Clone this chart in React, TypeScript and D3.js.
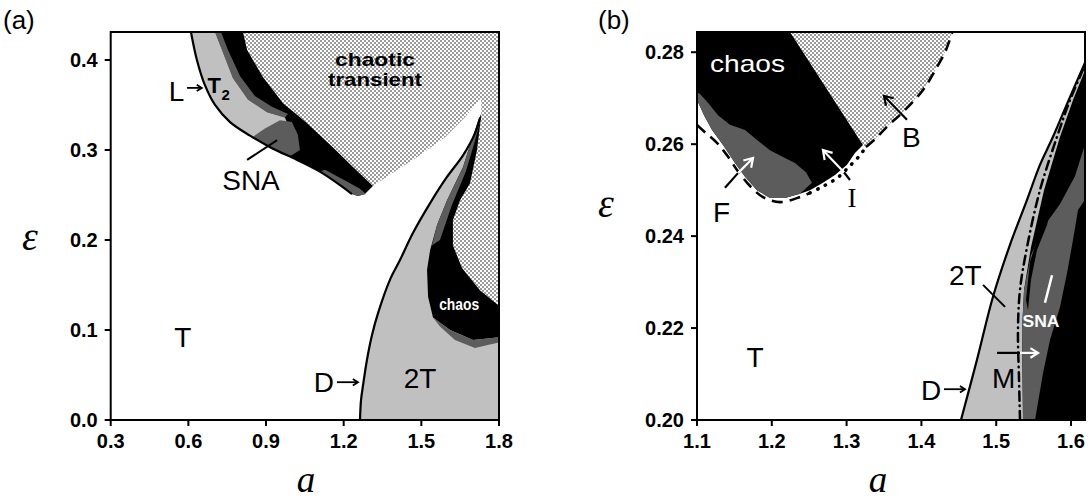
import React from 'react';
import * as d3 from 'd3';

type P = [number, number];

// ================= Panel (a) =================
const aTicksA = [0.3, 0.6, 0.9, 1.2, 1.5, 1.8];
const aTickLabelsA = ['0.3', '0.6', '0.9', '1.2', '1.5', '1.8'];
const eTicksA = [0.0, 0.1, 0.2, 0.3, 0.4];
const eTickLabelsA = ['0.0', '0.1', '0.2', '0.3', '0.4'];

// L boundary (left edge of upper band)
const curveL_A: P[] = [[0.610, 0.4311], [0.633, 0.400], [0.664, 0.372], [0.703, 0.350], [0.761, 0.331], [0.838, 0.316], [0.923, 0.302], [1.020, 0.289], [1.108, 0.276], [1.186, 0.261], [1.232, 0.251]];
const bandBottomA: P[] = [[1.255, 0.249], [1.282, 0.251], [1.313, 0.260]];
const bandTopA: P[] = [[1.236, 0.281], [1.158, 0.303], [1.058, 0.330], [0.966, 0.352], [0.888, 0.381], [0.827, 0.411], [0.811, 0.4311]];
const t2InnerA: P[] = [[0.885, 0.311], [0.935, 0.319], [0.985, 0.328], [0.973, 0.336], [0.904, 0.342], [0.830, 0.356], [0.772, 0.380], [0.730, 0.411], [0.703, 0.4311]];
const streakA: P[] = [[0.703, 0.4311], [0.730, 0.411], [0.772, 0.380], [0.830, 0.356], [0.904, 0.342], [0.973, 0.336], [0.985, 0.340], [0.923, 0.348], [0.857, 0.360], [0.800, 0.382], [0.753, 0.411], [0.726, 0.4311]];
const snaPatchA: P[] = [[0.846, 0.314], [0.896, 0.324], [0.954, 0.333], [1.000, 0.331], [1.023, 0.317], [1.031, 0.300], [0.993, 0.293], [0.923, 0.301]];
const bandFringeA: P[] = [[1.108, 0.276], [1.186, 0.261], [1.232, 0.251], [1.255, 0.249], [1.286, 0.251], [1.263, 0.257], [1.205, 0.266], [1.128, 0.278]];
// chaotic-transient lower boundary (white wedge)
const wedgeA: P[] = [[1.731, 0.358], [1.668, 0.336], [1.591, 0.314], [1.483, 0.292], [1.398, 0.276], [1.329, 0.263], [1.313, 0.260]];
// D boundary (period doubling)
const curveD_A: P[] = [[1.263, 0], [1.267, 0.022], [1.275, 0.039], [1.290, 0.067], [1.309, 0.094], [1.333, 0.119], [1.379, 0.156], [1.418, 0.178], [1.468, 0.208], [1.534, 0.241], [1.599, 0.270], [1.661, 0.294], [1.708, 0.319], [1.727, 0.336]];
const lobeRightA: P[] = [[1.731, 0.340], [1.727, 0.328], [1.715, 0.300], [1.688, 0.263], [1.649, 0.244], [1.622, 0.222], [1.622, 0.194], [1.657, 0.169], [1.727, 0.144], [1.8, 0.127]];
const lobeLeftA: P[] = [[1.731, 0.340], [1.720, 0.333], [1.689, 0.306], [1.661, 0.281], [1.599, 0.244], [1.561, 0.217], [1.534, 0.189], [1.522, 0.167], [1.526, 0.137], [1.545, 0.114], [1.611, 0.100], [1.700, 0.089], [1.8, 0.092]];
const lobeStripA: P[] = [[1.727, 0.331], [1.703, 0.306], [1.672, 0.276], [1.618, 0.239], [1.572, 0.200], [1.541, 0.194], [1.561, 0.217], [1.599, 0.244], [1.661, 0.281], [1.689, 0.306], [1.720, 0.333]];
const lobeFringeA: P[] = [[1.545, 0.114], [1.611, 0.100], [1.700, 0.089], [1.8, 0.092], [1.8, 0.086], [1.765, 0.084], [1.707, 0.080], [1.630, 0.089], [1.572, 0.104]];

// ================= Panel (b) =================
const aTicksB = [1.1, 1.2, 1.3, 1.4, 1.5, 1.6];
const aTickLabelsB = ['1.1', '1.2', '1.3', '1.4', '1.5', '1.6'];
const eTicksB = [0.20, 0.22, 0.24, 0.26, 0.28];
const eTickLabelsB = ['0.20', '0.22', '0.24', '0.26', '0.28'];

const chaosB: P[] = [[1.1, 0.2844], [1.2243, 0.2844], [1.3219, 0.2598], [1.3112, 0.2581], [1.3005, 0.2555], [1.2845, 0.2533], [1.2684, 0.2516], [1.2511, 0.2500], [1.2377, 0.2492], [1.2176, 0.2483], [1.1976, 0.2483], [1.1802, 0.2500], [1.1642, 0.2529], [1.1508, 0.2559], [1.1348, 0.2598], [1.1201, 0.2631], [1.1094, 0.2663], [1.1027, 0.2687], [1.1, 0.2696]];
const grayB: P[] = [[1.1, 0.2713], [1.1, 0.2696], [1.1027, 0.2687], [1.1094, 0.2663], [1.1201, 0.2631], [1.1348, 0.2598], [1.1508, 0.2559], [1.1642, 0.2529], [1.1802, 0.2500], [1.1976, 0.2483], [1.2176, 0.2483], [1.2377, 0.2492], [1.2537, 0.2516], [1.2457, 0.2539], [1.2310, 0.2559], [1.2176, 0.2570], [1.1976, 0.2587], [1.1802, 0.2609], [1.1642, 0.2631], [1.1441, 0.2642], [1.1281, 0.2663], [1.1147, 0.2690], [1.1040, 0.2709]];
const stippleB: P[] = [[1.2243, 0.2844], [1.4409, 0.2844], [1.4329, 0.2805], [1.4209, 0.2768], [1.4021, 0.2718], [1.3754, 0.2670], [1.3553, 0.2640], [1.3380, 0.2611], [1.3259, 0.2594], [1.3219, 0.2598]];
const curveF_B: P[] = [[1.1, 0.2642], [1.1120, 0.2624], [1.1267, 0.2603], [1.1401, 0.2576], [1.1535, 0.2544], [1.1709, 0.2509], [1.1882, 0.2485], [1.2110, 0.2474], [1.2377, 0.2485], [1.2511, 0.2494]];
const curveI_B: P[] = [[1.2511, 0.2494], [1.2671, 0.2507], [1.2872, 0.2526], [1.3045, 0.2553], [1.3179, 0.2576], [1.3259, 0.2594]];
const curveB_B: P[] = [[1.3259, 0.2594], [1.3380, 0.2611], [1.3553, 0.2640], [1.3754, 0.2670], [1.4021, 0.2718], [1.4209, 0.2768], [1.4329, 0.2805], [1.4409, 0.2842]];
const curveD_B: P[] = [[1.4529, 0.2], [1.4743, 0.2131], [1.4957, 0.2268], [1.5184, 0.2381], [1.5412, 0.2479], [1.5585, 0.2555], [1.5759, 0.2616], [1.5987, 0.2703], [1.6187, 0.2777]];
const curveM_B: P[] = [[1.5318, 0.2], [1.5305, 0.2087], [1.5291, 0.2196], [1.5318, 0.2283], [1.5412, 0.2376], [1.5585, 0.2500], [1.5813, 0.2616], [1.5987, 0.2696], [1.6187, 0.2772]];
const blackRightB: P[] = [[1.5358, 0.2], [1.5345, 0.2196], [1.5372, 0.2283], [1.5465, 0.2376], [1.5639, 0.2500], [1.5853, 0.2616], [1.6027, 0.2696], [1.6187, 0.2761], [1.6187, 0.2]];
const snaRegionB: P[] = [[1.5358, 0.2], [1.5345, 0.2196], [1.5372, 0.2283], [1.5465, 0.2359], [1.5652, 0.2424], [1.5853, 0.2470], [1.6053, 0.2530], [1.6187, 0.2600], [1.6187, 0.2479], [1.6094, 0.2457], [1.6027, 0.2392], [1.5947, 0.2320], [1.5853, 0.2246], [1.5719, 0.2174], [1.5626, 0.2102], [1.5519, 0.2]];
const streakB: P[] = [[1.5398, 0.2261], [1.5452, 0.2344], [1.5585, 0.2413], [1.5719, 0.2452], [1.5679, 0.2424], [1.5545, 0.2370], [1.5465, 0.2305], [1.5425, 0.2239]];

const LIGHT = '#c0c0c0';
const DARK = '#5c5c5c';
const SANS = '"Liberation Sans", Arial, sans-serif';
const SERIF = '"Liberation Serif", "Times New Roman", serif';

const sxA = d3.scaleLinear().domain([0.3, 1.8]).range([110.7, 499]);
const syA = d3.scaleLinear().domain([0, 0.4311]).range([420, 32]);
const sxB = d3.scaleLinear().domain([1.1, 1.6187]).range([697, 1085]);
const syB = d3.scaleLinear().domain([0.2, 0.2844]).range([420, 32]);

type S = d3.ScaleLinear<number, number>;

function path(pts: P[], sx: S, sy: S, closed = true, smooth = false) {
  const ln = d3.line<P>().x(d => sx(d[0])).y(d => sy(d[1]));
  if (smooth) ln.curve(d3.curveCatmullRom.alpha(0.5));
  return (ln(pts) || '') + (closed ? 'Z' : '');
}

function Arrow({ p1, p2, sx, sy, color = '#000', w = 2, head = 9, split, splitColor }: { p1: P; p2: P; sx: S; sy: S; color?: string; w?: number; head?: number; split?: P; splitColor?: string }) {
  const x1 = sx(p1[0]), y1 = sy(p1[1]), x2 = sx(p2[0]), y2 = sy(p2[1]);
  const ang = Math.atan2(y2 - y1, x2 - x1);
  const a1 = ang + Math.PI * 0.82, a2 = ang - Math.PI * 0.82;
  const headColor = split ? (splitColor || color) : color;
  return (
    <g fill="none" strokeLinecap="butt">
      {split ? (
        <>
          <line x1={x1} y1={y1} x2={sx(split[0])} y2={sy(split[1])} stroke={color} strokeWidth={w} />
          <line x1={sx(split[0])} y1={sy(split[1])} x2={x2} y2={y2} stroke={splitColor} strokeWidth={w} />
        </>
      ) : (
        <line x1={x1} y1={y1} x2={x2} y2={y2} stroke={color} strokeWidth={w} />
      )}
      <polyline points={`${x2 + head * Math.cos(a1)},${y2 + head * Math.sin(a1)} ${x2},${y2} ${x2 + head * Math.cos(a2)},${y2 + head * Math.sin(a2)}`} stroke={headColor} strokeWidth={w} />
    </g>
  );
}

function Axes({ sx, sy, xt, xl, yt, yl }: { sx: S; sy: S; xt: number[]; xl: string[]; yt: number[]; yl: string[] }) {
  const [x0, x1] = sx.range();
  const [y0, y1] = sy.range();
  return (
    <g>
      <rect x={x0} y={y1} width={x1 - x0} height={y0 - y1} fill="none" stroke="#000" strokeWidth={2} />
      {xt.map((t, i) => (
        <g key={'x' + i}>
          <line x1={sx(t)} x2={sx(t)} y1={y0} y2={y0 + 6} stroke="#000" strokeWidth={2} />
          <text x={sx(t)} y={y0 + 28} textAnchor="middle" fontFamily={SANS} fontWeight="bold" fontSize={20}>{xl[i]}</text>
        </g>
      ))}
      {yt.map((t, i) => (
        <g key={'y' + i}>
          <line x1={x0 - 6} x2={x0} y1={sy(t)} y2={sy(t)} stroke="#000" strokeWidth={2} />
          <text x={x0 - 13} y={sy(t) + 7} textAnchor="end" fontFamily={SANS} fontWeight="bold" fontSize={20}>{yl[i]}</text>
        </g>
      ))}
    </g>
  );
}

export default function App() {
  const stipA = [...[[0.811, 0.4311], [1.8, 0.4311]] as P[], ...lobeRightA.slice().reverse(), ...wedgeA, ...bandTopA.slice(0, -1)];
  const bandA = [...curveL_A, ...bandBottomA, ...bandTopA];
  const t2A = [...curveL_A.slice(0, 6), ...t2InnerA];
  const grayA = [...curveD_A, ...lobeRightA, [1.8, 0] as P];
  const lobeA = [...lobeLeftA, ...lobeRightA.slice().reverse()];
  const lightB = [...curveD_B, [1.6187, 0.2] as P];

  return (
    <svg width={1089} height={501} style={{ position: 'absolute', left: 0, top: 0, background: '#fff' }}>
      <defs>
        <pattern id="stip" width={4} height={4} patternUnits="userSpaceOnUse">
          <rect width={4} height={4} fill="#fff" />
          <rect x={0} y={0} width={2} height={2} fill="#9a9a9a" />
          <rect x={2} y={2} width={2} height={2} fill="#9a9a9a" />
        </pattern>
        <clipPath id="clipA"><rect x={110.7} y={32} width={388.3} height={388} /></clipPath>
        <clipPath id="clipB"><rect x={697} y={32} width={388} height={388} /></clipPath>
      </defs>
      <rect width={1089} height={501} fill="#fff" />

      {/* ---------- Panel (a) ---------- */}
      <g clipPath="url(#clipA)">
        <path d={path(stipA, sxA, syA)} fill="url(#stip)" />
        <path d={path(bandA, sxA, syA)} fill="#000" />
        <path d={path(streakA, sxA, syA)} fill={DARK} />
        <path d={path(t2A, sxA, syA)} fill={LIGHT} />
        <path d={path(snaPatchA, sxA, syA)} fill={DARK} />
        <path d={path(bandFringeA, sxA, syA)} fill={DARK} />
        <path d={path(grayA, sxA, syA)} fill={LIGHT} />
        <path d={path(lobeA, sxA, syA)} fill="#000" />
        <path d={path(lobeStripA, sxA, syA)} fill={DARK} />
        <path d={path(lobeFringeA, sxA, syA)} fill={DARK} />
        <path d={path(curveL_A, sxA, syA, false, true)} fill="none" stroke="#000" strokeWidth={2.2} />
        <path d={path(curveD_A, sxA, syA, false, true)} fill="none" stroke="#000" strokeWidth={2.2} />
      </g>
      <Axes sx={sxA} sy={syA} xt={aTicksA} xl={aTickLabelsA} yt={eTicksA} yl={eTickLabelsA} />
      <text x={3} y={29} fontFamily={SANS} fontSize={26}>(a)</text>
      <text x={30} y={250} textAnchor="middle" fontFamily={SERIF} fontStyle="italic" fontSize={40}>ε</text>
      <text x={306} y={492} textAnchor="middle" fontFamily={SERIF} fontStyle="italic" fontSize={37}>a</text>
      <text x={sxA(1.321)} y={syA(0.393)} textAnchor="middle" fontFamily={SANS} fontWeight="bold" fontSize={19} textLength={80} lengthAdjust="spacingAndGlyphs">chaotic</text>
      <text x={sxA(1.321)} y={syA(0.371)} textAnchor="middle" fontFamily={SANS} fontWeight="bold" fontSize={19} textLength={94} lengthAdjust="spacingAndGlyphs">transient</text>
      <text x={sxA(0.584)} y={syA(0.354)} textAnchor="end" fontFamily={SANS} fontSize={28}>L</text>
      <Arrow p1={[0.595, 0.369]} p2={[0.652, 0.369]} sx={sxA} sy={syA} w={1.8} head={6} />
      <text x={sxA(0.674)} y={syA(0.363)} fontFamily={SANS} fontWeight="bold" fontSize={22}>T</text>
      <text x={sxA(0.728)} y={syA(0.356)} fontFamily={SANS} fontWeight="bold" fontSize={15}>2</text>
      <line x1={sxA(0.827)} y1={syA(0.289)} x2={sxA(0.943)} y2={syA(0.311)} stroke="#000" strokeWidth={2} />
      <text x={sxA(0.842)} y={syA(0.256)} textAnchor="middle" fontFamily={SANS} fontSize={28}>SNA</text>
      <text x={sxA(0.579)} y={syA(0.081)} textAnchor="middle" fontFamily={SANS} fontSize={28}>T</text>
      <text x={sxA(1.163)} y={syA(0.031)} textAnchor="end" fontFamily={SANS} fontSize={28}>D</text>
      <Arrow p1={[1.174, 0.042]} p2={[1.255, 0.042]} sx={sxA} sy={syA} w={1.8} head={6} />
      <text x={sxA(1.495)} y={syA(0.036)} textAnchor="middle" fontFamily={SANS} fontSize={28}>2T</text>
      <text x={sxA(1.646)} y={syA(0.122)} textAnchor="middle" fontFamily={SANS} fontWeight="bold" fontSize={17} fill="#fff" textLength={40} lengthAdjust="spacingAndGlyphs">chaos</text>

      {/* ---------- Panel (b) ---------- */}
      <g clipPath="url(#clipB)">
        <path d={path(stippleB, sxB, syB)} fill="url(#stip)" />
        <path d={path(chaosB, sxB, syB)} fill="#000" />
        <path d={path(grayB, sxB, syB)} fill={DARK} />
        <path d={path(lightB, sxB, syB)} fill={LIGHT} />
        <path d={path(blackRightB, sxB, syB)} fill="#000" />
        <path d={path(snaRegionB, sxB, syB)} fill={DARK} />
        <path d={path(streakB, sxB, syB)} fill="#000" />
        <path d={path(curveD_B, sxB, syB, false, true)} fill="none" stroke="#000" strokeWidth={2.2} />
        <path d={path(curveM_B, sxB, syB, false, true)} fill="none" stroke="#000" strokeWidth={2.5} strokeDasharray="9 5 0.5 5" strokeLinecap="round" />
        <path d={path(curveF_B, sxB, syB, false, true)} fill="none" stroke="#000" strokeWidth={2.6} strokeDasharray="11 7" />
        <path d={path(curveI_B, sxB, syB, false, true)} fill="none" stroke="#000" strokeWidth={3.5} strokeDasharray="0.5 8" strokeLinecap="round" />
        <path d={path(curveB_B, sxB, syB, false, true)} fill="none" stroke="#000" strokeWidth={2.6} strokeDasharray="11 7" />
      </g>
      <Axes sx={sxB} sy={syB} xt={aTicksB} xl={aTickLabelsB} yt={eTicksB} yl={eTickLabelsB} />
      <text x={598} y={29} fontFamily={SANS} fontSize={26}>(b)</text>
      <text x={606} y={217} textAnchor="middle" fontFamily={SERIF} fontStyle="italic" fontSize={40}>ε</text>
      <text x={878} y={492} textAnchor="middle" fontFamily={SERIF} fontStyle="italic" fontSize={37}>a</text>
      <text x={sxB(1.1174)} y={syB(0.2757)} fontFamily={SANS} fontSize={24} fill="#fff" textLength={75} lengthAdjust="spacingAndGlyphs">chaos</text>
      <text x={sxB(1.374)} y={syB(0.2594)} fontFamily={SANS} fontSize={28}>B</text>
      <Arrow p1={[1.3807, 0.2653]} p2={[1.3500, 0.2705]} sx={sxB} sy={syB} w={2.2} head={10} />
      <text x={sxB(1.3072)} y={syB(0.2463)} textAnchor="middle" fontFamily={SERIF} fontSize={27}>I</text>
      <Arrow p1={[1.3045, 0.2522]} p2={[1.2684, 0.2587]} split={[1.2965, 0.2539]} splitColor="#fff" sx={sxB} sy={syB} w={2.2} head={10} />
      <text x={sxB(1.1214)} y={syB(0.2431)} fontFamily={SANS} fontSize={28}>F</text>
      <Arrow p1={[1.1374, 0.2505]} p2={[1.1749, 0.2570]} split={[1.1548, 0.2537]} splitColor="#fff" sx={sxB} sy={syB} w={2.2} head={10} />
      <text x={sxB(1.4369)} y={syB(0.2294)} fontFamily={SANS} fontSize={28}>2T</text>
      <line x1={sxB(1.4824)} y1={syB(0.2294)} x2={sxB(1.5118)} y2={syB(0.2246)} stroke="#000" strokeWidth={2} />
      <text x={sxB(1.5599)} y={syB(0.2202)} textAnchor="middle" fontFamily={SANS} fontWeight="bold" fontSize={17} fill="#fff" textLength={37} lengthAdjust="spacingAndGlyphs">SNA</text>
      <line x1={sxB(1.5652)} y1={syB(0.2255)} x2={sxB(1.5746)} y2={syB(0.2315)} stroke="#fff" strokeWidth={2.5} />
      <Arrow p1={[1.5011, 0.2146]} p2={[1.5559, 0.2146]} split={[1.5318, 0.2146]} splitColor="#fff" sx={sxB} sy={syB} w={2.2} head={9} />
      <text x={sxB(1.4944)} y={syB(0.2070)} fontFamily={SANS} fontSize={28}>M</text>
      <text x={sxB(1.1775)} y={syB(0.2115)} textAnchor="middle" fontFamily={SANS} fontSize={28}>T</text>
      <text x={sxB(1.3995)} y={syB(0.2044)} fontFamily={SANS} fontSize={28}>D</text>
      <Arrow p1={[1.4302, 0.2067]} p2={[1.4583, 0.2067]} sx={sxB} sy={syB} w={1.8} head={6} />
    </svg>
  );
}
